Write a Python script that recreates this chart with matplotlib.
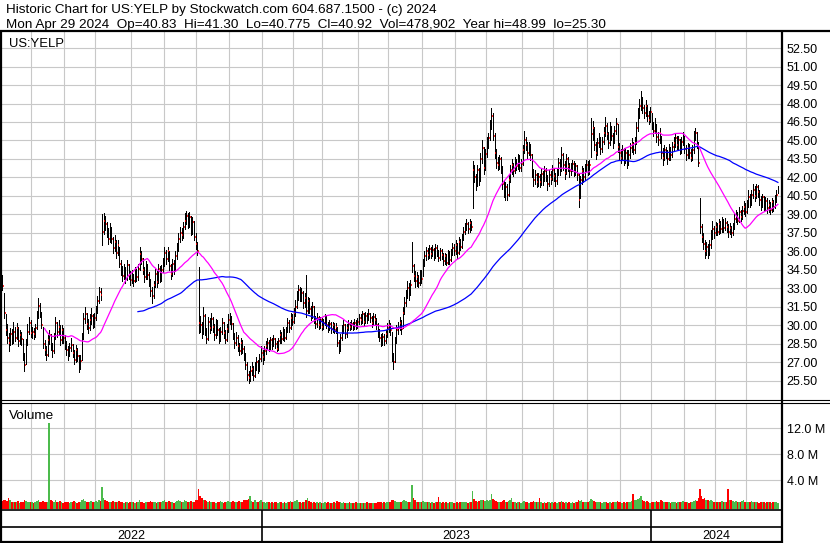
import matplotlib
matplotlib.use("Agg")
import matplotlib.pyplot as plt
from matplotlib.lines import Line2D
import numpy as np
import pandas as pd

plt.rcParams['font.family'] = ['Liberation Sans', 'DejaVu Sans']

# ---- data (daily bars, May 2 2022 .. Apr 29 2024) ----
month_days = [21, 21, 20, 23, 21, 21, 21, 21,
              20, 19, 23, 19, 22, 21, 20, 23, 20, 22, 21, 20,
              21, 20, 20, 21]
years = ['2022', '2023', '2024']
months_in_year = [8, 12, 4]

close = [
    33.6, 33.9, 33.2, 31.0, 29.6, 29.0, 28.6, 29.3, 28.8, 29.5, 29.0, 29.8, 28.7, 29.2, 28.9, 27.5, 26.8, 28.6, 29.5, 30.2, 29.4,  # May 22
    29.5, 29.3, 29.8, 30.8, 31.6, 31.0, 30.0, 28.5, 28.0, 27.6, 28.8, 29.2, 28.4, 27.9, 29.0, 30.2, 29.5, 29.9, 28.8, 29.6, 29.0,  # Jun
    28.5, 28.0, 27.7, 28.2, 28.4, 27.8, 27.2, 28.0, 27.5, 26.8, 27.1, 29.0, 30.5, 30.9, 30.1, 29.8, 30.4, 30.8, 30.0, 30.6,  # Jul
    31.2, 32.0, 32.7, 32.5, 37.6, 38.5, 38.2, 37.6, 37.0, 37.9, 37.0, 36.3, 36.8, 35.9, 36.5, 35.0, 34.5, 34.0, 34.6, 33.8, 34.9, 34.1, 33.7,  # Aug
    34.0, 33.6, 34.3, 33.9, 34.6, 35.8, 35.4, 34.5, 33.9, 34.8, 34.1, 33.6, 32.8, 32.4, 33.3, 34.2, 33.5, 34.6, 33.8, 34.5, 35.0,  # Sep
    35.9, 35.4, 36.0, 34.8, 34.2, 35.0, 34.6, 35.6, 36.2, 37.0, 37.5, 37.3, 38.0, 38.5, 38.9, 38.3, 38.8, 37.6, 38.4, 37.2, 36.6,  # Oct
    36.0, 30.2, 30.0, 29.4, 30.8, 29.6, 28.9, 30.3, 29.8, 30.5, 29.9, 29.2, 30.1, 29.6, 28.9, 29.5, 30.2, 29.4, 28.8, 29.7, 30.4,  # Nov
    30.6, 30.1, 29.2, 28.6, 29.0, 28.3, 27.9, 28.6, 28.1, 27.6, 26.8, 26.0, 25.7, 26.3, 26.5, 25.9, 26.6, 27.0, 26.4, 27.3, 27.8,  # Dec
    27.4, 27.9, 28.3, 28.6, 28.2, 28.8, 28.4, 28.9, 28.5, 28.1, 28.7, 29.2, 28.9, 29.5, 29.0, 29.6, 30.2, 29.8, 30.6, 30.3,  # Jan 23
    31.0, 31.5, 32.4, 32.9, 32.3, 32.6, 31.8, 32.2, 31.2, 32.0, 31.3, 30.8, 31.5, 30.5, 30.1, 30.6, 30.0, 30.4, 29.9,  # Feb
    30.2, 30.6, 30.0, 29.8, 30.1, 29.7, 30.0, 29.6, 29.9, 28.6, 28.0, 29.0, 29.6, 30.0, 29.3, 29.8, 30.1, 29.9, 30.1, 29.8, 30.2, 29.9, 30.3,  # Mar
    30.6, 30.4, 30.9, 30.3, 30.8, 30.5, 30.9, 30.6, 30.2, 30.7, 30.4, 30.0, 29.5, 29.0, 28.6, 29.1, 28.7, 29.3, 29.8,  # Apr
    30.0, 29.6, 27.5, 27.0, 28.8, 29.6, 29.8, 30.2, 29.7, 31.0, 31.8, 32.4, 33.0, 32.6, 33.3, 34.8, 34.0, 33.6, 33.9, 33.4, 34.2, 33.8,  # May
    35.0, 35.6, 36.0, 35.7, 36.2, 35.8, 36.1, 35.6, 36.3, 35.9, 35.5, 36.0, 35.7, 35.2, 35.6, 35.1, 35.8, 35.3, 35.9, 36.3, 36.0,  # Jun
    36.5, 35.9, 36.8, 36.4, 37.0, 37.6, 37.9, 38.2, 37.8, 38.3, 38.0, 42.6, 42.0, 41.5, 42.6, 41.8, 43.5, 44.4, 42.8, 43.9,  # Jul
    44.8, 45.2, 46.2, 47.0, 45.4, 44.0, 43.2, 43.0, 43.5, 42.8, 41.5, 40.8, 41.2, 40.6, 41.8, 42.6, 43.0, 42.5, 43.3, 42.9, 43.6, 42.8, 43.1,  # Aug
    44.2, 45.0, 44.6, 44.0, 44.5, 43.8, 42.4, 41.8, 42.2, 41.6, 42.0, 41.6, 42.3, 41.8, 42.5, 42.0, 41.5, 42.2, 41.9, 42.6,  # Sep
    42.1, 41.7, 42.4, 43.2, 42.6, 43.8, 43.0, 42.4, 43.5, 42.9, 42.5, 42.8, 43.1, 42.5, 42.9, 42.2, 40.2, 41.8, 42.5, 42.0, 42.8, 43.0,  # Oct
    42.6, 43.0, 45.5, 46.0, 44.6, 44.0, 44.8, 45.2, 44.3, 44.9, 45.6, 46.2, 45.5, 44.8, 46.0, 45.4, 44.9, 45.8, 46.3, 44.5, 44.0,  # Nov
    43.6, 44.2, 43.4, 44.0, 43.2, 43.8, 44.4, 44.7, 44.2, 44.8, 46.0, 47.0, 47.8, 48.3, 47.6, 47.2, 47.8, 47.0, 46.7, 47.3,  # Dec
    46.2, 45.8, 46.4, 45.3, 45.0, 45.6, 44.0, 43.6, 44.2, 44.0, 43.5, 44.3, 43.8, 44.5, 44.8, 45.2, 44.6, 45.0, 44.2, 44.9, 45.3,  # Jan 24
    44.3, 43.8, 44.4, 44.0, 43.6, 44.2, 45.3, 45.6, 44.8, 43.2, 38.0, 37.2, 36.6, 36.0, 36.4, 35.9, 36.5, 37.2, 37.8, 37.5,  # Feb
    38.0, 37.6, 38.2, 37.8, 38.4, 37.9, 38.3, 38.0, 37.6, 37.9, 37.5, 38.0, 38.6, 39.0, 38.5, 39.2, 38.8, 39.3, 39.6, 39.2,  # Mar
    39.8, 40.4, 40.0, 40.6, 41.0, 40.5, 41.2, 40.8, 40.2, 39.8, 40.4, 39.6, 40.1, 39.5, 39.8, 39.4, 40.0, 39.6, 40.3, 40.6, 40.92,  # Apr
]

high = [
    34.3, 34.2, 34.1, 32.6, 30.9, 30.1, 29.4, 29.8, 29.7, 30.3, 29.9, 30.2, 29.9, 29.6, 29.5, 28.9, 27.8, 28.9, 30.1, 30.7, 30.4,
    29.9, 29.8, 30.1, 31.2, 32.2, 31.8, 31.1, 29.9, 28.8, 28.3, 29.2, 29.6, 29.3, 28.6, 29.4, 30.7, 30.3, 30.4, 30.0, 30.0, 29.8,
    29.2, 28.7, 28.3, 28.6, 29.0, 28.5, 28.0, 28.4, 28.2, 27.6, 27.6, 29.4, 31.0, 31.5, 31.0, 30.5, 30.9, 31.4, 30.9, 31.0,
    31.6, 32.4, 33.1, 33.0, 39.0, 39.1, 38.9, 38.4, 37.9, 38.3, 38.0, 37.2, 37.3, 36.9, 36.9, 36.4, 35.3, 34.8, 35.0, 34.7, 35.3, 35.0, 34.4,
    34.5, 34.2, 34.7, 34.6, 35.0, 36.4, 36.0, 35.5, 34.7, 35.2, 35.0, 34.3, 33.8, 33.1, 33.6, 34.6, 34.4, 35.0, 34.8, 34.9, 35.5,
    36.4, 36.1, 36.4, 36.0, 35.0, 35.4, 35.3, 36.0, 36.7, 37.5, 38.0, 37.9, 38.4, 39.1, 39.3, 39.1, 39.2, 38.9, 38.8, 38.5, 37.5,
    36.8, 34.7, 30.8, 30.3, 31.5, 30.9, 29.8, 30.7, 30.6, 31.0, 30.7, 30.1, 30.5, 30.4, 29.8, 29.9, 30.6, 30.3, 29.6, 30.1, 30.9,
    31.0, 30.8, 30.2, 29.4, 29.5, 29.2, 28.6, 29.0, 28.8, 28.3, 27.8, 27.0, 26.3, 26.7, 27.0, 26.7, 27.0, 27.4, 27.2, 27.7, 28.3,
    28.0, 28.3, 28.7, 29.0, 28.8, 29.1, 29.0, 29.2, 29.0, 28.7, 29.0, 29.6, 29.5, 29.9, 29.7, 29.9, 30.6, 30.4, 31.0, 30.9,
    31.4, 32.1, 32.8, 33.3, 33.1, 33.0, 32.8, 32.6, 34.1, 32.3, 32.2, 31.6, 31.9, 31.6, 30.8, 31.0, 30.8, 30.7, 30.6,
    30.5, 30.9, 30.8, 30.3, 30.4, 30.3, 30.3, 30.2, 30.2, 29.9, 28.8, 29.3, 30.0, 30.4, 30.1, 30.1, 30.4, 30.3, 30.4, 30.3, 30.5, 30.4, 30.6,
    30.9, 30.9, 31.2, 31.0, 31.1, 31.0, 31.3, 31.0, 30.8, 31.0, 30.9, 30.6, 30.2, 29.7, 29.3, 29.4, 29.3, 29.6, 30.2,
    30.4, 30.2, 29.5, 27.8, 29.1, 30.0, 30.3, 30.7, 30.4, 31.5, 32.3, 32.9, 33.6, 33.4, 33.7, 36.8, 35.0, 34.4, 34.3, 34.1, 34.5, 34.5,
    35.4, 36.0, 36.4, 36.3, 36.5, 36.4, 36.5, 36.3, 36.6, 36.5, 36.1, 36.3, 36.2, 35.9, 35.9, 35.8, 36.1, 36.0, 36.2, 36.7, 36.6,
    36.9, 36.7, 37.2, 37.0, 37.4, 38.0, 38.3, 38.6, 38.4, 38.6, 38.5, 43.3, 43.0, 42.3, 43.0, 42.8, 44.0, 45.0, 44.5, 44.3,
    45.3, 45.6, 46.7, 47.6, 47.2, 45.6, 44.3, 43.7, 43.8, 43.7, 42.9, 41.7, 41.6, 41.5, 42.2, 43.0, 43.5, 43.2, 43.7, 43.5, 43.9, 43.8, 43.5,
    44.6, 45.8, 45.3, 44.9, 44.9, 44.7, 43.9, 42.7, 42.6, 42.4, 42.4, 42.3, 42.7, 42.5, 42.9, 42.8, 42.2, 42.6, 42.5, 43.0,
    42.8, 42.4, 42.8, 43.6, 43.5, 44.5, 44.0, 43.3, 43.9, 43.7, 43.2, 43.2, 43.4, 43.3, 43.2, 43.0, 42.4, 42.1, 42.9, 42.8, 43.1, 43.4,
    43.3, 43.4, 46.8, 46.6, 46.1, 44.9, 45.2, 45.6, 45.3, 45.3, 46.1, 46.9, 46.4, 45.7, 46.5, 46.2, 45.6, 46.2, 46.8, 46.3, 44.8,
    44.3, 44.6, 44.4, 44.4, 44.2, 44.2, 44.8, 45.2, 44.9, 45.3, 46.5, 47.6, 48.4, 49.0, 48.5, 47.9, 48.3, 47.9, 47.4, 47.7,
    47.2, 46.5, 46.8, 46.3, 45.7, 46.0, 45.4, 44.4, 44.6, 44.5, 44.2, 44.7, 44.5, 44.9, 45.3, 45.6, 45.4, 45.4, 45.1, 45.3, 45.7,
    45.4, 44.6, 44.8, 44.7, 44.3, 44.6, 45.8, 46.0, 45.7, 44.9, 40.3, 38.2, 37.5, 36.9, 36.8, 36.6, 36.9, 37.7, 38.5, 38.1,
    38.4, 38.3, 38.6, 38.5, 38.8, 38.6, 38.7, 38.5, 38.2, 38.3, 38.1, 38.3, 39.0, 39.4, 39.2, 39.6, 39.4, 39.7, 40.1, 39.9,
    40.2, 41.0, 40.7, 41.0, 41.5, 41.3, 41.5, 41.4, 41.0, 40.5, 40.7, 40.5, 40.4, 40.3, 40.2, 40.0, 40.3, 40.2, 40.6, 41.0, 41.30,
]

low = [
    33.2, 33.3, 32.9, 30.6, 29.2, 28.6, 27.9, 28.4, 28.5, 28.6, 28.7, 28.9, 28.3, 28.5, 28.4, 27.2, 26.3, 26.9, 28.4, 29.3, 29.1,
    29.0, 28.9, 29.1, 29.7, 30.6, 30.7, 29.8, 28.2, 27.6, 27.2, 27.5, 28.5, 28.0, 27.4, 27.8, 28.9, 29.1, 29.3, 28.4, 28.6, 28.6,
    28.1, 27.6, 27.2, 27.5, 27.9, 27.4, 26.9, 27.0, 27.1, 26.2, 26.5, 27.2, 28.9, 30.2, 29.7, 29.4, 29.6, 30.1, 29.8, 29.9,
    30.4, 31.0, 31.8, 32.1, 36.5, 37.4, 37.7, 37.2, 36.6, 36.8, 36.7, 35.9, 36.0, 35.5, 35.7, 34.7, 34.1, 33.6, 33.8, 33.4, 33.7, 33.8, 33.3,
    33.4, 33.2, 33.5, 33.6, 33.7, 34.5, 35.0, 34.2, 33.5, 33.8, 33.8, 33.2, 32.4, 31.8, 32.2, 33.1, 33.1, 33.4, 33.5, 33.6, 34.3,
    34.8, 35.0, 35.2, 34.5, 33.8, 34.0, 34.2, 34.4, 35.4, 36.0, 36.8, 36.9, 37.1, 37.8, 38.2, 37.9, 38.0, 37.3, 37.4, 36.9, 36.2,
    35.7, 29.4, 29.5, 29.0, 29.3, 29.2, 28.6, 28.8, 29.4, 29.6, 29.5, 28.8, 29.0, 29.2, 28.6, 28.7, 29.3, 29.0, 28.6, 28.7, 29.5,
    30.1, 29.7, 28.9, 28.2, 28.4, 27.9, 27.6, 27.7, 27.8, 27.2, 26.5, 25.6, 25.3, 25.5, 26.0, 25.6, 25.8, 26.4, 26.1, 26.3, 27.1,
    26.9, 27.2, 27.7, 28.1, 27.9, 28.1, 28.1, 28.3, 28.2, 27.9, 28.0, 28.6, 28.6, 28.8, 28.7, 28.9, 29.5, 29.5, 29.7, 30.0,
    30.2, 30.8, 31.4, 32.1, 32.0, 32.0, 31.4, 31.5, 30.7, 31.0, 31.0, 30.4, 30.6, 30.2, 29.8, 29.9, 29.7, 29.8, 29.6,
    29.7, 30.0, 29.8, 29.5, 29.6, 29.4, 29.5, 29.4, 29.4, 28.3, 27.8, 27.9, 28.8, 29.4, 29.0, 29.1, 29.6, 29.6, 29.7, 29.6, 29.7, 29.7, 29.8,
    30.1, 30.1, 30.2, 30.0, 30.2, 30.2, 30.4, 30.3, 29.9, 30.0, 30.1, 29.7, 29.1, 28.7, 28.3, 28.4, 28.4, 28.6, 29.1,
    29.5, 29.2, 27.1, 26.5, 27.0, 28.6, 29.3, 29.6, 29.3, 29.8, 30.9, 31.6, 32.2, 32.1, 32.5, 34.3, 33.6, 33.1, 33.2, 33.1, 33.3, 33.4,
    34.0, 34.8, 35.3, 35.4, 35.5, 35.5, 35.6, 35.3, 35.5, 35.6, 35.2, 35.3, 35.4, 34.9, 35.0, 34.9, 35.0, 35.0, 35.2, 35.7, 35.7,
    35.8, 35.5, 35.8, 36.1, 36.3, 36.9, 37.4, 37.7, 37.5, 37.6, 37.7, 39.5, 41.6, 41.0, 41.3, 41.4, 41.7, 43.2, 42.3, 42.6,
    43.7, 44.4, 45.0, 45.9, 45.0, 43.6, 42.8, 42.6, 42.7, 42.4, 41.1, 40.4, 40.2, 40.2, 40.5, 41.6, 42.3, 42.1, 42.4, 42.6, 42.7, 42.5, 42.5,
    43.0, 44.0, 44.2, 43.6, 43.8, 43.4, 42.0, 41.3, 41.5, 41.2, 41.3, 41.2, 41.4, 41.4, 41.7, 41.7, 41.0, 41.3, 41.5, 41.8,
    41.7, 41.3, 41.5, 42.2, 42.2, 42.5, 42.6, 41.9, 42.3, 42.5, 42.0, 42.2, 42.5, 42.1, 42.2, 41.8, 39.6, 40.3, 41.5, 41.6, 41.8, 42.5,
    42.2, 42.3, 43.7, 45.0, 44.2, 43.5, 43.8, 44.5, 43.9, 44.1, 44.7, 45.4, 45.1, 44.4, 44.6, 45.0, 44.4, 44.8, 45.5, 44.1, 43.4,
    43.2, 43.4, 43.0, 43.2, 42.8, 43.0, 43.6, 44.1, 43.9, 44.0, 44.7, 45.8, 46.8, 47.5, 47.2, 46.8, 47.0, 46.6, 46.3, 46.5,
    45.9, 45.4, 45.6, 44.9, 44.6, 44.8, 43.6, 43.0, 43.4, 43.6, 43.1, 43.4, 43.4, 43.7, 44.2, 44.5, 44.3, 44.3, 43.9, 44.0, 44.6,
    44.0, 43.4, 43.6, 43.6, 43.3, 43.4, 44.0, 45.0, 44.4, 42.9, 37.5, 36.8, 36.2, 35.5, 35.7, 35.5, 35.7, 36.3, 37.0, 37.1,
    37.3, 37.3, 37.4, 37.5, 37.6, 37.6, 37.7, 37.6, 37.2, 37.4, 37.2, 37.3, 37.8, 38.4, 38.2, 38.4, 38.5, 38.6, 39.0, 38.9,
    39.1, 39.6, 39.6, 39.8, 40.3, 40.1, 40.3, 40.4, 39.8, 39.4, 39.6, 39.3, 39.4, 39.1, 39.2, 39.0, 39.2, 39.3, 39.5, 40.0, 40.775,
]

# volume in millions of shares
volume = [
    0.9, 0.7, 0.8, 1.0, 0.9, 0.8, 1.3, 0.9, 0.7, 0.6, 0.7, 0.6, 0.8, 0.5, 0.6, 0.7, 0.9, 0.8, 0.6, 0.7, 0.6,
    0.6, 0.5, 0.7, 0.8, 0.9, 0.6, 0.7, 0.8, 0.7, 0.6, 0.7, 12.7, 1.0, 0.8, 0.7, 0.9, 0.6, 0.7, 0.8, 0.6, 0.5,
    0.6, 0.7, 0.6, 0.5, 0.6, 0.7, 0.8, 0.6, 0.5, 0.7, 0.6, 0.9, 1.1, 0.8, 0.7, 0.6, 0.7, 0.8, 0.6, 0.7,
    0.8, 0.7, 0.9, 0.8, 3.0, 1.2, 0.9, 0.8, 0.7, 0.6, 0.7, 0.8, 0.6, 0.7, 0.6, 0.8, 0.7, 0.6, 0.5, 0.7, 0.6, 0.5, 0.6,
    0.6, 0.7, 0.5, 0.6, 0.7, 0.9, 0.7, 0.6, 0.5, 0.6, 0.7, 0.6, 0.8, 0.7, 0.6, 0.7, 0.5, 0.6, 0.7, 0.6, 0.8,
    0.9, 0.7, 0.6, 0.8, 0.7, 0.6, 0.5, 0.7, 0.8, 0.9, 0.8, 0.6, 0.7, 0.9, 0.8, 0.6, 0.7, 0.8, 0.6, 0.7, 0.9,
    1.0, 2.7, 1.6, 1.2, 1.0, 0.9, 0.8, 0.7, 0.8, 0.6, 0.7, 0.6, 0.5, 0.7, 0.6, 0.8, 0.6, 0.5, 0.7, 0.6, 0.8,
    0.7, 0.6, 0.8, 0.7, 0.6, 0.7, 0.8, 0.6, 0.7, 0.9, 1.0, 0.9, 1.1, 1.5, 0.8, 0.7, 0.9, 0.7, 0.6, 0.8, 0.9,
    0.6, 0.7, 0.5, 0.6, 0.7, 0.5, 0.6, 0.5, 0.7, 0.6, 0.5, 0.6, 0.7, 0.5, 0.6, 0.5, 0.7, 0.6, 0.8, 0.6,
    0.7, 0.8, 0.9, 0.7, 0.6, 0.5, 0.6, 0.7, 1.0, 1.3, 0.8, 0.6, 0.5, 0.6, 0.5, 0.6, 0.5, 0.6, 0.5,
    0.5, 0.6, 0.5, 0.6, 0.5, 0.4, 0.5, 0.6, 0.5, 0.8, 0.7, 0.6, 0.5, 0.6, 0.5, 0.4, 0.5, 0.6, 0.5, 0.4, 0.5, 0.6, 0.5,
    0.5, 0.4, 0.5, 0.4, 0.5, 0.6, 0.4, 0.5, 0.4, 0.5, 0.4, 0.5, 0.6, 0.7, 0.6, 0.5, 0.6, 0.5, 0.6,
    0.6, 0.7, 1.0, 0.9, 0.8, 0.7, 0.6, 0.7, 0.6, 0.8, 0.9, 0.8, 0.7, 0.6, 0.7, 3.2, 1.2, 0.9, 0.7, 0.6, 0.7, 0.6,
    0.8, 0.7, 0.6, 0.7, 0.6, 0.5, 0.6, 0.5, 0.6, 0.7, 1.4, 0.6, 0.5, 0.6, 0.5, 0.6, 0.5, 0.6, 0.7, 0.6, 0.5,
    0.5, 0.6, 0.5, 0.6, 0.7, 0.6, 0.7, 0.6, 0.5, 0.6, 0.7, 2.3, 1.1, 0.8, 0.7, 0.8, 0.9, 1.0, 0.9, 0.8,
    0.9, 0.8, 1.0, 1.8, 1.1, 0.9, 0.8, 0.7, 0.6, 0.7, 0.8, 0.9, 0.7, 0.6, 0.8, 0.9, 1.2, 0.7, 0.6, 0.5, 0.6, 0.7, 0.5,
    0.6, 0.8, 0.7, 0.6, 0.5, 0.6, 0.7, 0.8, 0.6, 0.7, 0.6, 1.3, 0.6, 0.5, 0.6, 0.5, 0.6, 0.7, 0.5, 0.6,
    0.5, 0.6, 0.5, 0.6, 0.7, 0.8, 0.6, 0.5, 0.6, 0.5, 0.6, 0.5, 0.6, 0.5, 0.6, 0.7, 0.9, 0.8, 1.0, 0.7, 0.6, 0.7,
    0.7, 0.8, 1.1, 0.9, 0.8, 0.7, 0.6, 0.7, 0.6, 0.5, 0.6, 0.7, 0.6, 0.5, 0.6, 0.5, 0.6, 0.7, 0.6, 0.8, 0.7,
    0.6, 0.5, 0.6, 0.5, 0.7, 0.6, 0.7, 0.8, 1.8, 0.9, 1.0, 1.1, 1.2, 1.5, 0.9, 0.8, 0.7, 0.8, 0.6, 0.5,
    0.7, 0.6, 0.7, 0.8, 0.6, 0.7, 0.9, 0.8, 0.7, 0.6, 0.7, 0.6, 0.5, 0.6, 0.7, 0.6, 0.5, 0.6, 0.7, 0.6, 0.8,
    0.6, 0.7, 0.6, 0.5, 0.6, 0.7, 0.8, 0.9, 0.8, 1.2, 2.7, 1.5, 1.1, 1.2, 0.9, 1.0, 0.8, 0.9, 0.8, 0.7,
    0.7, 0.6, 0.7, 0.6, 0.8, 0.7, 0.6, 0.7, 2.6, 1.0, 0.9, 0.8, 0.7, 0.8, 0.7, 0.6, 0.7, 0.8, 0.9, 0.7,
    0.6, 0.7, 0.6, 0.8, 0.7, 0.6, 0.7, 0.6, 0.5, 0.6, 0.7, 0.6, 0.5, 0.6, 0.7, 0.6, 0.5, 0.6, 0.7, 0.6, 0.48,
]

price_ticks = np.arange(25.5, 52.6, 1.5)
vol_ticks = [4, 8, 12]

n = sum(month_days)
assert len(close) == len(high) == len(low) == len(volume) == n

# ---- layout in pixels ----
W, H = 830, 543
fig = plt.figure(figsize=(W / 100, H / 100), dpi=100)
fig.patch.set_facecolor('white')
PLOT_R = 781
XLIM = (0.4, n + 1.0)
VOL_BOTTOM = -0.45


def px_axes(x0, y0, x1, y1):
    return fig.add_axes([x0 / W, 1 - y1 / H, (x1 - x0) / W, (y1 - y0) / H])


def fig_line(xs, ys, lw=1.0):
    fig.add_artist(Line2D([x / W for x in xs], [1 - y / H for y in ys],
                          transform=fig.transFigure, color='black', lw=lw,
                          solid_capstyle='butt'))


def data_to_px(i):
    return (i - XLIM[0]) / (XLIM[1] - XLIM[0]) * PLOT_R


idx = np.arange(n)
c = pd.Series(close)
ma30 = c.rolling(30).mean()
ma90 = c.rolling(90).mean()
month_starts = np.cumsum(month_days)[:-1] - 0.5
grid_col = '#c8c8c8'

# ---- price panel ----
ax = px_axes(0, 32, PLOT_R, 400)
ax.set_xlim(*XLIM)
ax.set_ylim(23.95, 53.8)
for y in price_ticks:
    ax.axhline(y, color=grid_col, lw=0.8, zorder=0)
for x in month_starts:
    ax.axvline(x, color=grid_col, lw=0.8, zorder=0)
ax.vlines(idx, low, high, colors='black', lw=0.72, zorder=3, antialiased=False)
ax.hlines(close, idx + 0.5, idx + 1.0, colors='#ff0000', lw=1.2, zorder=3.5)
ax.plot(idx, ma90, color='#0000ff', lw=0.9, zorder=4)
ax.plot(idx, ma30, color='#ff00ff', lw=0.9, zorder=5)
ax.set_xticks([])
ax.yaxis.tick_right()
ax.set_yticks(price_ticks)
ax.set_yticklabels([f'{v:.2f}' for v in price_ticks])
ax.tick_params(axis='y', length=0, pad=4, labelsize=9)
for s in ax.spines.values():
    s.set_visible(False)

# ---- volume panel ----
vax = px_axes(0, 403, PLOT_R, 509)
vax.set_xlim(*XLIM)
vax.set_ylim(VOL_BOTTOM, 15.85)
for y in vol_ticks:
    vax.axhline(y, color=grid_col, lw=0.8, zorder=0)
for x in month_starts:
    vax.axvline(x, color=grid_col, lw=0.8, zorder=0)
prev = np.r_[close[0] + 1, close[:-1]]
cl = np.array(close)
vcol = np.where(cl > prev, '#4cbb4c', np.where(cl < prev, '#ff0000', '#a8a8a8'))
vax.bar(idx, np.array(volume) - VOL_BOTTOM, bottom=VOL_BOTTOM, width=1.0,
        color=vcol, linewidth=0, zorder=2)
vax.set_xticks([])
vax.yaxis.tick_right()
vax.set_yticks(vol_ticks)
vax.set_yticklabels([f'{v:.1f} M' for v in vol_ticks])
vax.tick_params(axis='y', length=0, pad=4, labelsize=9)
for s in vax.spines.values():
    s.set_visible(False)

# ---- texts ----
fig.text(6 / W, 1 - 13 / H, 'Historic Chart for US:YELP by Stockwatch.com 604.687.1500 - (c) 2024',
         fontsize=9.7, va='baseline')
fig.text(6 / W, 1 - 28 / H,
         'Mon Apr 29 2024  Op=40.83  Hi=41.30  Lo=40.775  Cl=40.92  Vol=478,902  Year hi=48.99  lo=25.30',
         fontsize=9.7, va='baseline')
fig.text(9 / W, 1 - 47 / H, 'US:YELP', fontsize=9.4, va='baseline')
fig.text(9 / W, 1 - 419 / H, 'Volume', fontsize=9.7, va='baseline')

# ---- frame lines ----
fig_line([0, W], [31, 31], lw=1.6)
fig_line([0, W], [400, 400], lw=0.8)
fig_line([0, W], [402.5, 402.5], lw=0.8)
fig_line([0, PLOT_R], [509.5, 509.5], lw=1.2)
fig_line([0, PLOT_R], [526.5, 526.5], lw=1.2)
fig_line([0, PLOT_R], [541.5, 541.5], lw=1.6)
fig_line([1, 1], [31, 543], lw=1.6)
fig_line([PLOT_R + 0.5, PLOT_R + 0.5], [31, 543], lw=1.6)

# year band
year_ends = np.cumsum(month_days)[np.cumsum(months_in_year)[:-1] - 1] - 0.5
bounds = [0] + [data_to_px(p) for p in year_ends] + [PLOT_R]
for b in bounds[1:-1]:
    fig_line([b, b], [509.5, 542], lw=1.2)
for k, yr in enumerate(years):
    fig.text((bounds[k] + bounds[k + 1]) / 2 / W, 1 - 539 / H, yr, fontsize=9,
             ha='center', va='baseline')

fig.savefig('out.png', dpi=100)
